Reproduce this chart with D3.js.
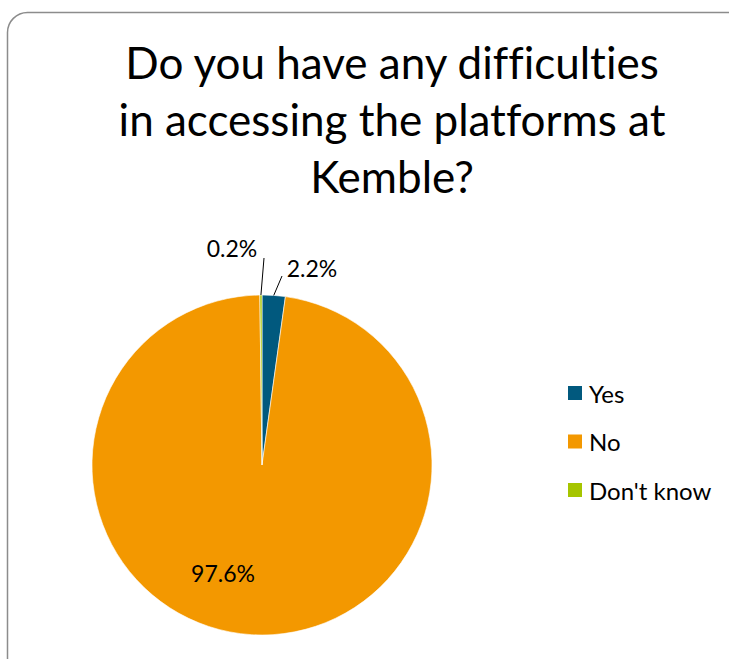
<!DOCTYPE html>
<html>
<head>
<meta charset="utf-8">
<script src="https://cdn.jsdelivr.net/npm/d3@7"></script>
<style>
  html, body { margin: 0; padding: 0; background: #fff; }
  svg { display: block; }
  text { font-family: Lato, "Open Sans", sans-serif; fill: #000; font-variant-ligatures: none; }
</style>
</head>
<body>
<svg id="chart" width="729" height="659"></svg>
<script>
// Survey answers
const categories = ["Yes", "No", "Don't know"];
const shares = [2.2, 97.6, 0.2];
const colors = ["#01597E", "#F39800", "#A6C500"];
const titleLines = ["Do you have any difficulties", "in accessing the platforms at", "Kemble?"];

const W = 729, H = 659;
const svg = d3.select("#chart");

// Rounded chart-area frame (runs off the right and bottom edges)
svg.append("rect")
  .attr("x", 7.5).attr("y", 12.5)
  .attr("width", 740).attr("height", 670)
  .attr("rx", 20).attr("ry", 20)
  .attr("fill", "#fff")
  .attr("stroke", "#8c8c8c")
  .attr("stroke-width", 1.5);

// Title
const title = svg.append("text")
  .attr("text-anchor", "middle")
  .style("font-size", "44px");
title.selectAll("tspan")
  .data(titleLines)
  .join("tspan")
  .attr("x", 392)
  .attr("y", (d, i) => 79 + i * 57)
  .text(d => d);

// Pie
const cx = 262, cy = 465, R = 170;
const pie = d3.pie().sort(null).value(d => d.v);
const data = categories.map((c, i) => ({ c, v: shares[i], color: colors[i] }));
const arcs = pie(data);
const arc = d3.arc().innerRadius(0).outerRadius(R);

const g = svg.append("g").attr("transform", `translate(${cx},${cy})`);
g.selectAll("path.slice")
  .data(arcs)
  .join("path")
  .attr("class", "slice")
  .attr("d", arc)
  .attr("fill", d => d.data.color)
  .attr("stroke", "#fff")
  .attr("stroke-width", 0.6);

// Data labels: small slices get outside labels with leader lines
const fmt = v => v.toFixed(1) + "%";
const labelSpec = {
  "Yes":        { pos: [50, -197], anchor: "middle", leadEnd: [20, -189] },
  "No":         { pos: [-39, 108], anchor: "middle" },
  "Don't know": { pos: [-30, -217], anchor: "middle", leadEnd: [2, -207] }
};

arcs.forEach(a => {
  const s = labelSpec[a.data.c];
  if (s.leadEnd) {
    const mid = (a.startAngle + a.endAngle) / 2;
    const p0 = [Math.sin(mid) * R, -Math.cos(mid) * R];
    g.append("line")
      .attr("x1", p0[0]).attr("y1", p0[1])
      .attr("x2", s.leadEnd[0]).attr("y2", s.leadEnd[1])
      .attr("stroke", "#000")
      .attr("stroke-width", 1);
  }
  g.append("text")
    .attr("x", s.pos[0]).attr("y", s.pos[1])
    .attr("text-anchor", s.anchor)
    .attr("dominant-baseline", "central")
    .style("font-size", "23px")
    .text(fmt(a.data.v));
});

// Legend
const legend = svg.append("g").attr("transform", "translate(568,386)");
const items = legend.selectAll("g")
  .data(data)
  .join("g")
  .attr("transform", (d, i) => `translate(0,${i * 48.5})`);
items.append("rect")
  .attr("width", 14).attr("height", 14)
  .attr("fill", d => d.color);
items.append("text")
  .attr("x", 21).attr("y", 7)
  .attr("dominant-baseline", "central")
  .style("font-size", "24px")
  .text(d => d.c);
</script>
</body>
</html>
